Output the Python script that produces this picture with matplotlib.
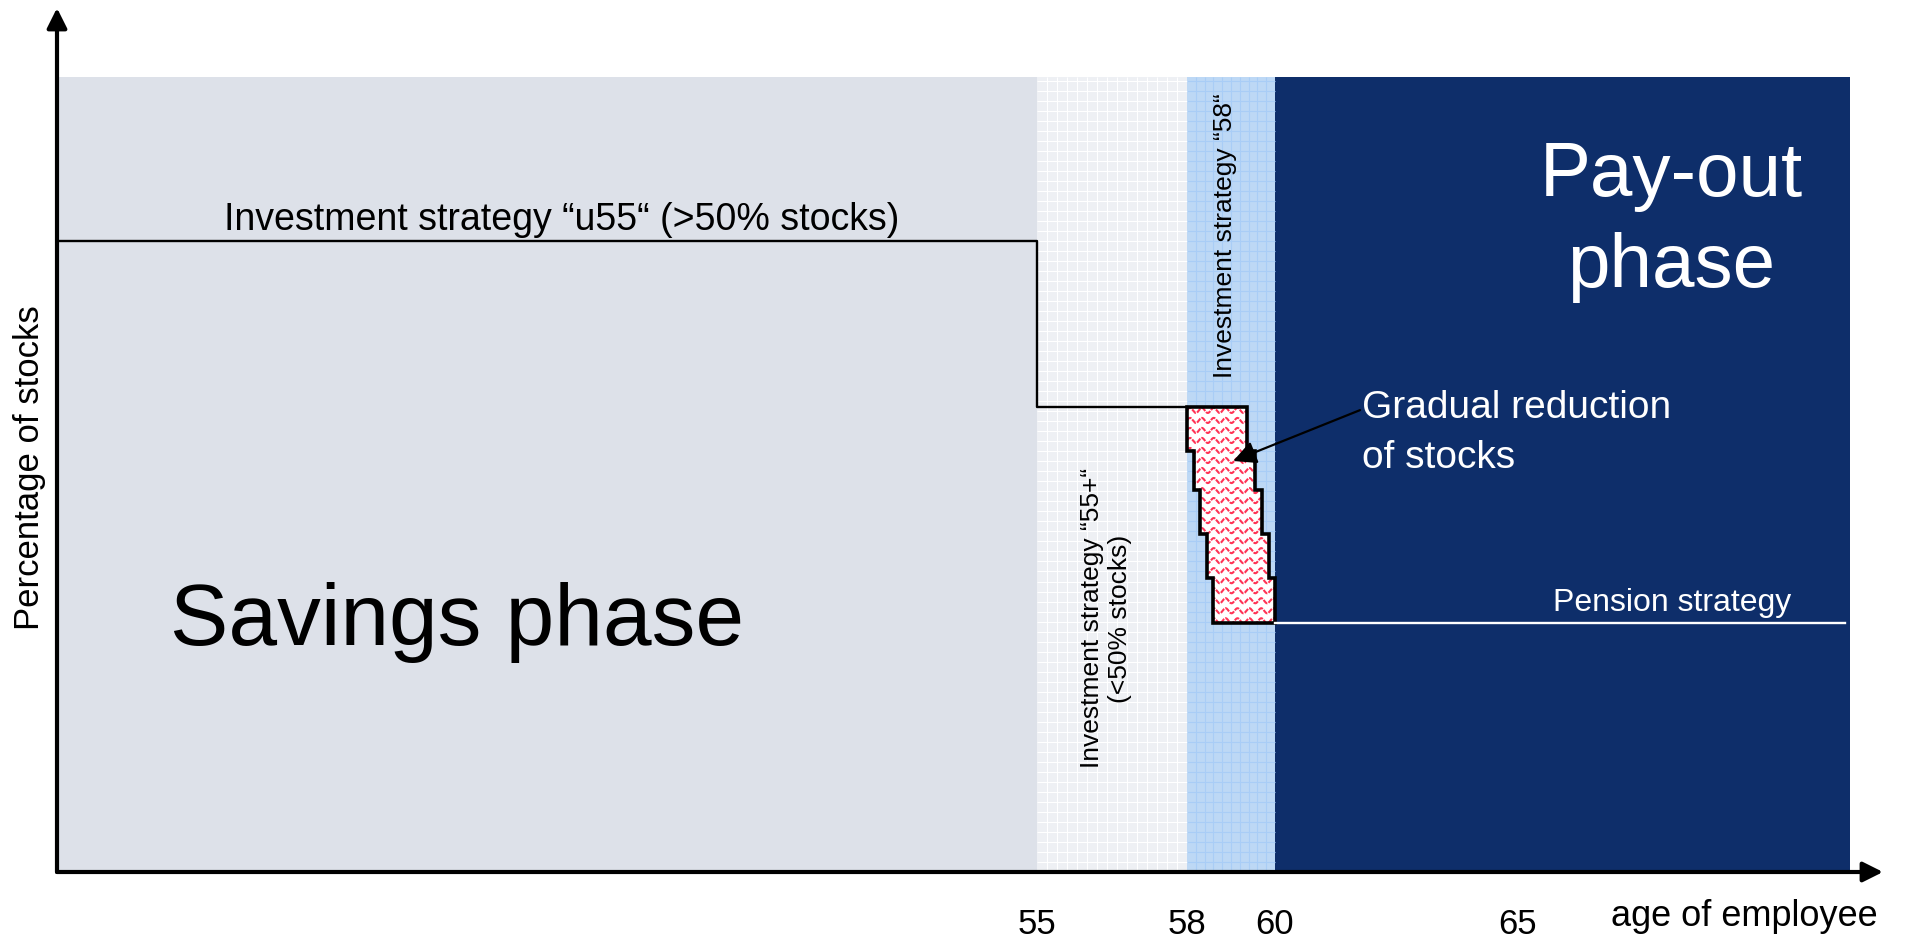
import numpy as np
import matplotlib
matplotlib.use("Agg")
import matplotlib.pyplot as plt
from matplotlib.patches import Polygon
from matplotlib.scale import FuncScale

plt.rcParams['font.family'] = ['Liberation Sans', 'DejaVu Sans']

# ---- data -------------------------------------------------------------
phase_edges = [35, 55, 58, 60, 72]          # savings | 55+ | 58 | pay-out
u55_level = 79.4                            # % stocks before 55
plus55_level = 58.5                         # % stocks 55..58
step_levels = [58.5, 53.0, 48.0, 42.5, 37.0, 31.3]
step_left = [58.0, 58.15, 58.3, 58.45, 58.6]
step_right = [59.36, 59.55, 59.7, 59.86, 60.0]
pension_level = 31.3
pension_end = 71.9
tick_ages = [55, 58, 60, 65]
tick_labels = ['55', '58', '60', '65']

# ---- schematic (non-uniform) age axis ---------------------------------
axis_ages = np.array([35, 55, 58, 60, 65, 72], dtype=float)
axis_pos = np.array([0, 980, 1130, 1218, 1461, 1793], dtype=float)


def fwd(x):
    return np.interp(x, axis_ages, axis_pos)


def inv(p):
    return np.interp(p, axis_pos, axis_ages)


W, H = 1906, 939
fig = plt.figure(figsize=(W / 100, H / 100), dpi=100)
ax = fig.add_axes([57 / W, (H - 872) / H, (1850 - 57) / W, (872 - 77) / H])
ax.set_xscale(FuncScale(ax, (fwd, inv)))
ax.set_xlim(phase_edges[0], phase_edges[-1])
ax.set_ylim(0, 100)
for s in ax.spines.values():
    s.set_visible(False)
ax.set_yticks([])

# phase backgrounds
ax.axvspan(phase_edges[0], phase_edges[1], color='#dde1e9', lw=0, zorder=0)
ax.axvspan(phase_edges[1], phase_edges[2], color='#eef0f4', lw=0, zorder=0)
ax.axvspan(phase_edges[2], phase_edges[3], color='#bdd8f5', lw=0, zorder=0)
ax.axvspan(phase_edges[3], phase_edges[4], color='#0e2e6a', lw=0, zorder=0)


def grid_texture(x0, x1, color):
    """Fine graph-paper texture over one phase band."""
    ax.vlines(np.arange(x0 + 0.2, x1, 0.2), 0, 100, colors=color, lw=0.8, zorder=0.5)
    ax.hlines(np.arange(1.26, 100, 1.26), x0, x1, colors=color, lw=0.8, zorder=0.5)


grid_texture(phase_edges[1], phase_edges[2], '#ffffff')
grid_texture(phase_edges[2], phase_edges[3], '#a9cdf6')

# staircase of the gradual reduction
pts = []
for i in range(len(step_right)):
    pts.append((step_right[i], step_levels[i]))
    pts.append((step_right[i], step_levels[i + 1]))
for i in reversed(range(len(step_left))):
    pts.append((step_left[i], step_levels[i + 1]))
    pts.append((step_left[i], step_levels[i]))
stair = Polygon(pts, closed=True, facecolor='white', edgecolor='none', zorder=2)
ax.add_patch(stair)

# wavy red fill texture inside the staircase
xw = np.linspace(57.9, 60.1, 600)
for y0 in np.arange(step_levels[-1] + 0.3, step_levels[0] + 1.0, 1.26):
    ln, = ax.plot(xw, y0 + 0.32 * np.sin(2 * np.pi * (xw - 58) / 0.27),
                  color='#ff3355', lw=1.5, ls=(0, (2.5, 0.6)), zorder=3)
    ln.set_clip_path(stair)

ax.add_patch(Polygon(pts, closed=True, facecolor='none', edgecolor='black',
                     lw=2.6, zorder=4, joinstyle='miter'))

# strategy path
ax.plot([phase_edges[0], 55, 55, step_left[0]],
        [u55_level, u55_level, plus55_level, plus55_level],
        color='black', lw=1.7, zorder=4)
ax.plot([60, pension_end], [pension_level, pension_level],
        color='white', lw=1.7, zorder=4)

# axis arrows
arrow = dict(arrowstyle='-|>,head_length=0.4,head_width=0.2', lw=3,
             color='black', mutation_scale=30, shrinkA=0, shrinkB=0)
ax.annotate('', xy=(0, (872 - 8) / 795), xytext=(0, 0), xycoords='axes fraction',
            arrowprops=arrow, annotation_clip=False, zorder=6)
ax.annotate('', xy=((1883 - 57) / 1793, 0), xytext=(0, 0), xycoords='axes fraction',
            arrowprops=arrow, annotation_clip=False, zorder=6)

# ticks and axis labels
ax.set_xticks(tick_ages, tick_labels)
ax.tick_params(axis='x', length=0, pad=26, labelsize=25)
ax.set_xlabel('age of employee', fontsize=26, ha='left', va='center')
ax.xaxis.set_label_coords((1611 - 57) / 1793, (872 - 917) / 795)
ax.set_ylabel('Percentage of stocks', fontsize=25, va='center')
ax.yaxis.set_label_coords((30 - 57) / 1793, (872 - 468) / 795)

# annotations
ax.text(43.16, 31.4, 'Savings phase', fontsize=63, ha='center', va='center', zorder=5)
ax.text(68.23, 81.8, 'Pay-out\nphase', fontsize=55, ha='center', va='center',
        color='white', linespacing=1.36, zorder=5)
ax.text(45.29, u55_level + 0.4,
        'Investment strategy \u201cu55\u201c (>50% stocks)',
        fontsize=27, ha='center', va='bottom', zorder=5)
ax.text(68.25, pension_level + 0.6, 'Pension strategy', fontsize=23,
        ha='center', va='bottom', color='white', zorder=5)
ax.text(58.86, 80.1, 'Investment strategy \u201c58\u201c', fontsize=19,
        rotation=90, ha='center', va='center', zorder=5)
ax.text(56.38, 31.9, 'Investment strategy \u201c55+\u201c\n(<50% stocks)',
        fontsize=19, rotation=90, ha='center', va='center',
        multialignment='center', zorder=5)
ax.text(61.79, 55.2, 'Gradual reduction\nof stocks', fontsize=28,
        ha='left', va='center', color='white', linespacing=1.5, zorder=5)
ax.annotate('', xy=(59.05, 51.7), xytext=(61.75, 58.1),
            arrowprops=dict(arrowstyle='-|>,head_length=0.5,head_width=0.25',
                            lw=1.6, color='black', mutation_scale=28,
                            shrinkA=0, shrinkB=0), zorder=6)

fig.savefig('out.png', dpi=100, facecolor='white')
